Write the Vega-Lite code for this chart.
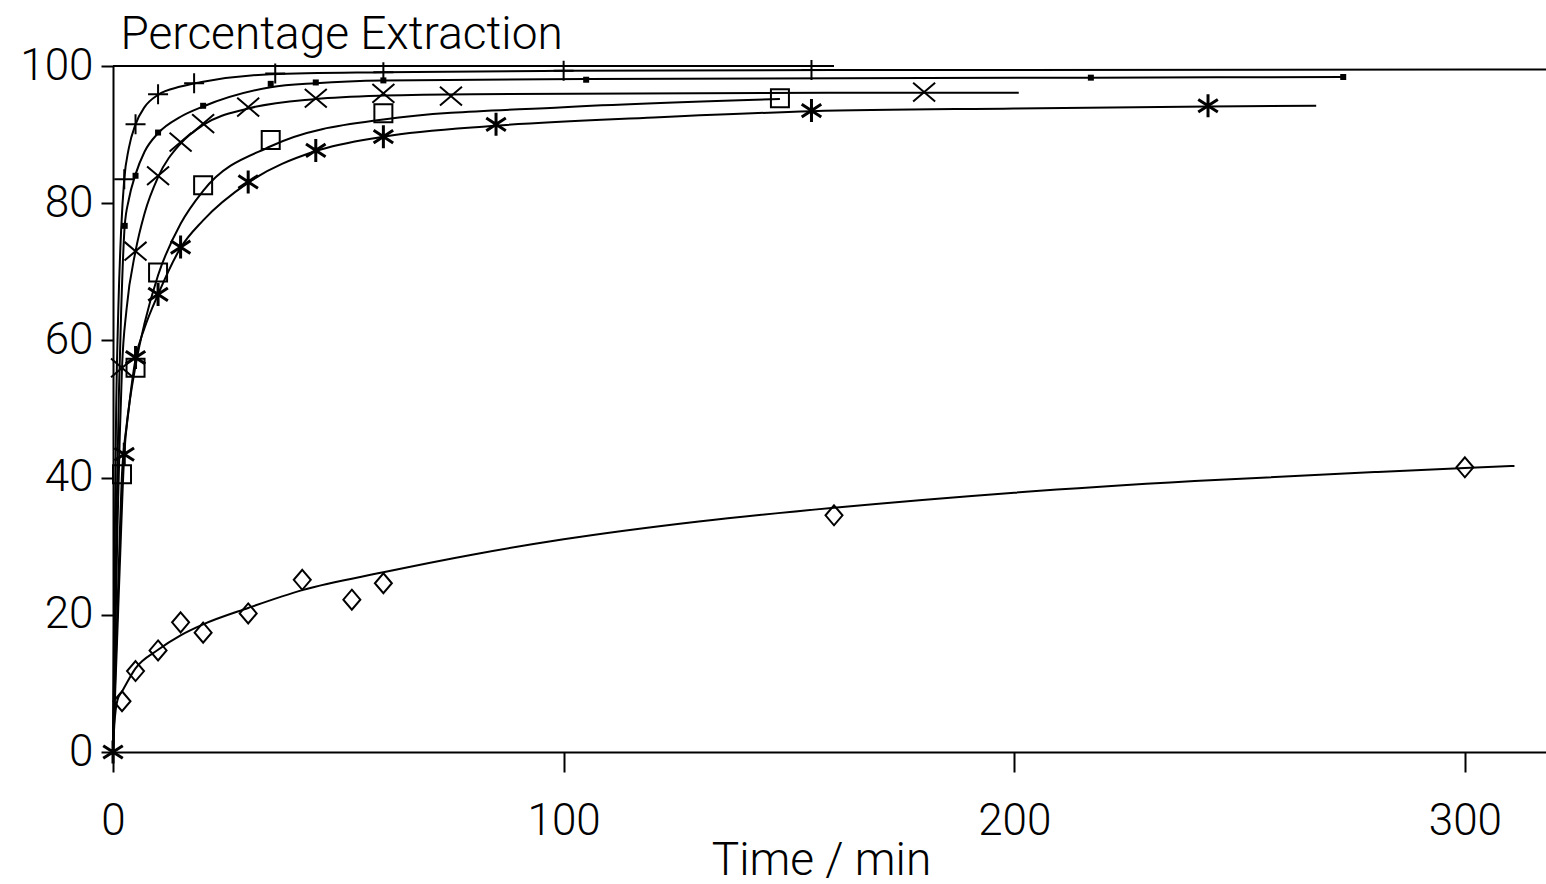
{
  "$schema": "https://vega.github.io/schema/vega-lite/v6.json",
  "width": 1433,
  "height": 686,
  "autosize": {"type": "none"},
  "padding": {"left": 113, "top": 66, "right": 0, "bottom": 132},
  "background": "white",
  "config": {
    "view": {"stroke": null},
    "font": "Roboto",
    "axis": {
      "domainColor": "black",
      "domainWidth": 2,
      "tickColor": "black",
      "tickWidth": 2,
      "grid": false,
      "labelFlush": false,
      "labelFont": "Roboto",
      "labelFontSize": 44,
      "labelFontWeight": 300,
      "labelColor": "black",
      "titleFont": "Roboto",
      "titleFontSize": 46,
      "titleFontWeight": 300,
      "titleColor": "black"
    }
  },
  "datasets": {
    "fits": [
      {"set": "limit", "t": 0, "pct": 100},
      {"set": "limit", "t": 160, "pct": 100},

      {"set": "plus", "t": 0, "pct": 0},
      {"set": "plus", "t": 0.3, "pct": 25},
      {"set": "plus", "t": 0.7, "pct": 50},
      {"set": "plus", "t": 1.2, "pct": 65},
      {"set": "plus", "t": 1.8, "pct": 76},
      {"set": "plus", "t": 2.5, "pct": 83.5},
      {"set": "plus", "t": 3.5, "pct": 88},
      {"set": "plus", "t": 5, "pct": 91.5},
      {"set": "plus", "t": 7, "pct": 94},
      {"set": "plus", "t": 10, "pct": 95.8},
      {"set": "plus", "t": 15, "pct": 97},
      {"set": "plus", "t": 20, "pct": 97.7},
      {"set": "plus", "t": 35, "pct": 98.8},
      {"set": "plus", "t": 60, "pct": 99.1},
      {"set": "plus", "t": 100, "pct": 99.3},
      {"set": "plus", "t": 160, "pct": 99.4},
      {"set": "plus", "t": 318, "pct": 99.5},

      {"set": "dot", "t": 0, "pct": 0},
      {"set": "dot", "t": 0.4, "pct": 18},
      {"set": "dot", "t": 0.8, "pct": 35},
      {"set": "dot", "t": 1.3, "pct": 52},
      {"set": "dot", "t": 1.8, "pct": 64},
      {"set": "dot", "t": 2.6, "pct": 76.7},
      {"set": "dot", "t": 3.5, "pct": 80.5},
      {"set": "dot", "t": 5, "pct": 84.2},
      {"set": "dot", "t": 7, "pct": 87.5},
      {"set": "dot", "t": 10, "pct": 90.2},
      {"set": "dot", "t": 15, "pct": 92.6},
      {"set": "dot", "t": 20, "pct": 94.1},
      {"set": "dot", "t": 35, "pct": 96.9},
      {"set": "dot", "t": 45, "pct": 97.5},
      {"set": "dot", "t": 60, "pct": 97.9},
      {"set": "dot", "t": 105, "pct": 98.1},
      {"set": "dot", "t": 217, "pct": 98.3},
      {"set": "dot", "t": 273, "pct": 98.4},

      {"set": "cross", "t": 0, "pct": 0},
      {"set": "cross", "t": 0.5, "pct": 16},
      {"set": "cross", "t": 1, "pct": 33},
      {"set": "cross", "t": 1.5, "pct": 46},
      {"set": "cross", "t": 2, "pct": 56},
      {"set": "cross", "t": 3, "pct": 64.5},
      {"set": "cross", "t": 5, "pct": 73},
      {"set": "cross", "t": 7, "pct": 78.5},
      {"set": "cross", "t": 10, "pct": 83.8},
      {"set": "cross", "t": 15, "pct": 88.7},
      {"set": "cross", "t": 20, "pct": 91.4},
      {"set": "cross", "t": 30, "pct": 93.8},
      {"set": "cross", "t": 45, "pct": 95.2},
      {"set": "cross", "t": 60, "pct": 95.7},
      {"set": "cross", "t": 80, "pct": 95.9},
      {"set": "cross", "t": 180, "pct": 96.1},
      {"set": "cross", "t": 201, "pct": 96.1},

      {"set": "square", "t": 0, "pct": 0},
      {"set": "square", "t": 0.5, "pct": 11},
      {"set": "square", "t": 1, "pct": 21},
      {"set": "square", "t": 2, "pct": 40.5},
      {"set": "square", "t": 3, "pct": 47.5},
      {"set": "square", "t": 5, "pct": 56.3},
      {"set": "square", "t": 7, "pct": 62.5},
      {"set": "square", "t": 10, "pct": 69.5},
      {"set": "square", "t": 15, "pct": 77},
      {"set": "square", "t": 20, "pct": 81.8},
      {"set": "square", "t": 35, "pct": 88.3},
      {"set": "square", "t": 60, "pct": 92.2},
      {"set": "square", "t": 100, "pct": 94},
      {"set": "square", "t": 148, "pct": 95.2},

      {"set": "star", "t": 0, "pct": 0},
      {"set": "star", "t": 0.5, "pct": 9},
      {"set": "star", "t": 1, "pct": 18},
      {"set": "star", "t": 1.5, "pct": 27},
      {"set": "star", "t": 2.5, "pct": 43.4},
      {"set": "star", "t": 3.5, "pct": 50},
      {"set": "star", "t": 5, "pct": 57.3},
      {"set": "star", "t": 7, "pct": 61.8},
      {"set": "star", "t": 10, "pct": 66.7},
      {"set": "star", "t": 15, "pct": 73.5},
      {"set": "star", "t": 20, "pct": 77.5},
      {"set": "star", "t": 30, "pct": 83},
      {"set": "star", "t": 45, "pct": 87.6},
      {"set": "star", "t": 60, "pct": 89.7},
      {"set": "star", "t": 85, "pct": 91.3},
      {"set": "star", "t": 120, "pct": 92.5},
      {"set": "star", "t": 155, "pct": 93.4},
      {"set": "star", "t": 200, "pct": 93.8},
      {"set": "star", "t": 243, "pct": 94.1},
      {"set": "star", "t": 267, "pct": 94.2},

      {"set": "diamond", "t": 0, "pct": 0},
      {"set": "diamond", "t": 0.3, "pct": 4},
      {"set": "diamond", "t": 1, "pct": 7.6},
      {"set": "diamond", "t": 2, "pct": 8.8},
      {"set": "diamond", "t": 5, "pct": 12.2},
      {"set": "diamond", "t": 10, "pct": 14.9},
      {"set": "diamond", "t": 15, "pct": 17},
      {"set": "diamond", "t": 20, "pct": 18.6},
      {"set": "diamond", "t": 30, "pct": 21},
      {"set": "diamond", "t": 42, "pct": 23.6},
      {"set": "diamond", "t": 60, "pct": 26.2},
      {"set": "diamond", "t": 80, "pct": 28.8},
      {"set": "diamond", "t": 100, "pct": 31},
      {"set": "diamond", "t": 130, "pct": 33.6},
      {"set": "diamond", "t": 160, "pct": 35.6},
      {"set": "diamond", "t": 200, "pct": 37.8},
      {"set": "diamond", "t": 240, "pct": 39.5},
      {"set": "diamond", "t": 280, "pct": 40.8},
      {"set": "diamond", "t": 300, "pct": 41.4},
      {"set": "diamond", "t": 311, "pct": 41.7}
    ],
    "obs": [
      {"set": "plus", "t": 2.5, "pct": 83.5},
      {"set": "plus", "t": 5, "pct": 91.5},
      {"set": "plus", "t": 10, "pct": 95.9},
      {"set": "plus", "t": 18, "pct": 97.5},
      {"set": "plus", "t": 36, "pct": 98.9},
      {"set": "plus", "t": 60, "pct": 99.1},
      {"set": "plus", "t": 100, "pct": 99.3},
      {"set": "plus", "t": 155, "pct": 99.4},

      {"set": "dot", "t": 2.6, "pct": 76.7},
      {"set": "dot", "t": 5, "pct": 84},
      {"set": "dot", "t": 10, "pct": 90.3},
      {"set": "dot", "t": 20, "pct": 94.2},
      {"set": "dot", "t": 35, "pct": 97.4},
      {"set": "dot", "t": 45, "pct": 97.6},
      {"set": "dot", "t": 60, "pct": 97.9},
      {"set": "dot", "t": 105, "pct": 98},
      {"set": "dot", "t": 217, "pct": 98.3},
      {"set": "dot", "t": 273, "pct": 98.4},

      {"set": "cross", "t": 2, "pct": 56},
      {"set": "cross", "t": 5, "pct": 73},
      {"set": "cross", "t": 10, "pct": 84},
      {"set": "cross", "t": 15, "pct": 88.9},
      {"set": "cross", "t": 20, "pct": 91.6},
      {"set": "cross", "t": 30, "pct": 94},
      {"set": "cross", "t": 45, "pct": 95.3},
      {"set": "cross", "t": 60, "pct": 96},
      {"set": "cross", "t": 75, "pct": 95.6},
      {"set": "cross", "t": 180, "pct": 96.2},

      {"set": "square", "t": 2, "pct": 40.5},
      {"set": "square", "t": 5, "pct": 56},
      {"set": "square", "t": 10, "pct": 69.9},
      {"set": "square", "t": 20, "pct": 82.6},
      {"set": "square", "t": 35, "pct": 89.2},
      {"set": "square", "t": 60, "pct": 93.1},
      {"set": "square", "t": 148, "pct": 95.3},

      {"set": "star", "t": 0, "pct": 0},
      {"set": "star", "t": 2.5, "pct": 43.4},
      {"set": "star", "t": 5, "pct": 57.5},
      {"set": "star", "t": 10, "pct": 66.7},
      {"set": "star", "t": 15, "pct": 73.6},
      {"set": "star", "t": 30, "pct": 83.1},
      {"set": "star", "t": 45, "pct": 87.7},
      {"set": "star", "t": 60, "pct": 89.7},
      {"set": "star", "t": 85, "pct": 91.5},
      {"set": "star", "t": 155, "pct": 93.5},
      {"set": "star", "t": 243, "pct": 94.2},

      {"set": "diamond", "t": 2, "pct": 7.4},
      {"set": "diamond", "t": 5, "pct": 11.8},
      {"set": "diamond", "t": 10, "pct": 14.8},
      {"set": "diamond", "t": 15, "pct": 18.9},
      {"set": "diamond", "t": 20, "pct": 17.4},
      {"set": "diamond", "t": 30, "pct": 20.2},
      {"set": "diamond", "t": 42, "pct": 25.1},
      {"set": "diamond", "t": 53, "pct": 22.2},
      {"set": "diamond", "t": 60, "pct": 24.6},
      {"set": "diamond", "t": 160, "pct": 34.5},
      {"set": "diamond", "t": 300, "pct": 41.5}
    ]
  },
  "encoding": {
    "x": {
      "field": "t",
      "type": "quantitative",
      "scale": {"domain": [0, 318], "nice": false},
      "axis": {
        "values": [0, 100, 200, 300],
        "tickSize": 20,
        "labelPadding": 62,
        "labelBaseline": "alphabetic",
        "title": "Time / min",
        "titleBaseline": "alphabetic",
        "titleX": 708,
        "titleY": 122
      }
    },
    "y": {
      "field": "pct",
      "type": "quantitative",
      "scale": {"domain": [0, 100], "nice": false},
      "axis": {
        "values": [0, 20, 40, 60, 80, 100],
        "tickSize": 12,
        "labelPadding": 8,
        "title": "Percentage Extraction",
        "titleAngle": 0,
        "titleAlign": "left",
        "titleBaseline": "alphabetic",
        "titleX": 7,
        "titleY": -18
      }
    }
  },
  "layer": [
    {
      "data": {"name": "fits"},
      "mark": {"type": "line", "interpolate": "monotone", "color": "black", "strokeWidth": 2},
      "encoding": {"detail": {"field": "set"}}
    },
    {
      "data": {"name": "obs"},
      "transform": [{"filter": "datum.set === 'plus'"}],
      "mark": {"type": "point", "shape": "M-1,0H1M0,-1V1", "size": 400, "filled": false, "color": "black", "strokeWidth": 2, "opacity": 1}
    },
    {
      "data": {"name": "obs"},
      "transform": [{"filter": "datum.set === 'dot'"}],
      "mark": {"type": "point", "shape": "square", "size": 36, "filled": true, "color": "black", "opacity": 1}
    },
    {
      "data": {"name": "obs"},
      "transform": [{"filter": "datum.set === 'cross'"}],
      "mark": {"type": "point", "shape": "M-1,-0.85L1,0.85M-1,0.85L1,-0.85", "size": 484, "filled": false, "color": "black", "strokeWidth": 2, "opacity": 1}
    },
    {
      "data": {"name": "obs"},
      "transform": [{"filter": "datum.set === 'square'"}],
      "mark": {"type": "point", "shape": "M-1,-1H1V1H-1Z", "size": 324, "filled": false, "color": "black", "strokeWidth": 2, "opacity": 1}
    },
    {
      "data": {"name": "obs"},
      "transform": [{"filter": "datum.set === 'star'"}],
      "mark": {"type": "point", "shape": "M0,-1V1M-0.85,-0.55L0.85,0.55M-0.85,0.55L0.85,-0.55", "size": 529, "filled": false, "color": "black", "strokeWidth": 3, "opacity": 1}
    },
    {
      "data": {"name": "obs"},
      "transform": [{"filter": "datum.set === 'diamond'"}],
      "mark": {"type": "point", "shape": "M0,-1L0.85,0L0,1L-0.85,0Z", "size": 400, "filled": false, "color": "black", "strokeWidth": 2, "opacity": 1}
    }
  ]
}
